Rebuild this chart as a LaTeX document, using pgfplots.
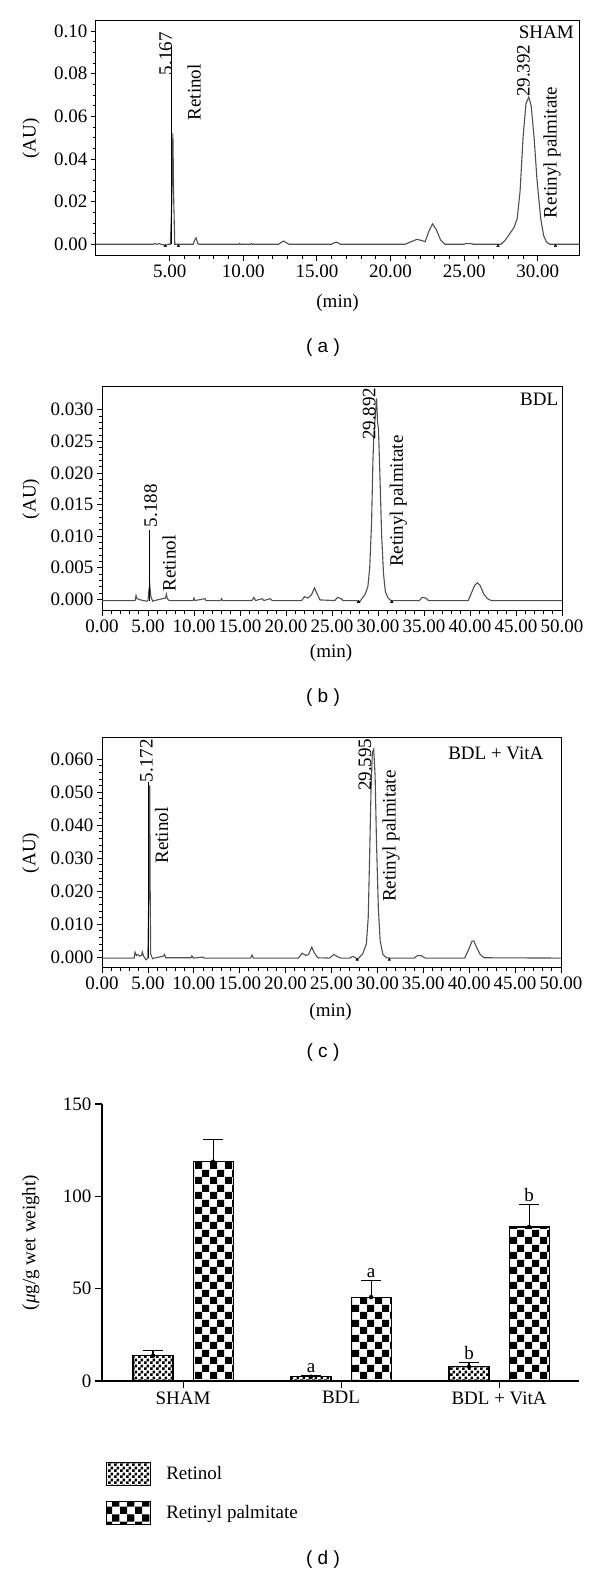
\documentclass[border=0pt]{standalone}
\usepackage{fontspec}
\setmainfont{Liberation Serif}
\newfontfamily\capfont{Liberation Sans}
\usepackage{pgfplots}
\pgfplotsset{compat=1.18}
\usetikzlibrary{patterns}
\pgfdeclarepatternformonly{finecheck}{\pgfpointorigin}{\pgfqpoint{6pt}{6pt}}{\pgfqpoint{6pt}{6pt}}{%
 \pgfpathrectangle{\pgfpointorigin}{\pgfqpoint{3pt}{3pt}}%
 \pgfpathrectangle{\pgfqpoint{3pt}{3pt}}{\pgfqpoint{3pt}{3pt}}%
 \pgfusepath{fill}}
\pgfdeclarepatternformonly{bigcheck}{\pgfpointorigin}{\pgfqpoint{15pt}{15pt}}{\pgfqpoint{15pt}{15pt}}{%
 \pgfpathrectangle{\pgfpointorigin}{\pgfqpoint{7.5pt}{7.5pt}}%
 \pgfpathrectangle{\pgfqpoint{7.5pt}{7.5pt}}{\pgfqpoint{7.5pt}{7.5pt}}%
 \pgfusepath{fill}}
\definecolor{trace}{HTML}{505050}
\tikzset{rl/.style={rotate=90, anchor=west, inner sep=0pt}}
\pgfplotsset{
 chrom/.style={scale only axis, enlargelimits=false, axis line style={line width=1pt},
  tick align=outside, tick pos=left, major tick length=5pt, minor tick length=3pt,
  every tick/.style={black, line width=0.8pt},
  scaled ticks=false,
  /pgf/number format/assume math mode=true,
  xlabel={(min)}, ylabel={(AU)},
  xticklabel style={/pgf/number format/fixed, /pgf/number format/fixed zerofill, /pgf/number format/precision=2},
 },
 trc/.style={trace, line width=1.1pt, mark=none},
 spk/.style={black, line width=1.3pt, mark=none},
 ylab2/.style={yticklabel style={/pgf/number format/fixed, /pgf/number format/fixed zerofill, /pgf/number format/precision=2}},
 ylab3/.style={yticklabel style={/pgf/number format/fixed, /pgf/number format/fixed zerofill, /pgf/number format/precision=3}},
}
\begin{document}
\begin{tikzpicture}[font=\fontsize{19}{22}\selectfont]
\useasboundingbox (0pt,0pt) rectangle (600pt,1574pt);

% ---------- (a) SHAM ----------
\begin{axis}[chrom, ylab2, at={(96pt,1318pt)}, anchor=south west, width=483pt, height=235pt,
 xmin=0, xmax=32.8, ymin=-0.0055, ymax=0.1047,
 xtick={5,10,15,20,25,30}, minor x tick num=4,
 ytick={0,0.02,0.04,0.06,0.08,0.1}, minor y tick num=3,
 xlabel style={at={(rel axis cs:0.5,-0.2)}, anchor=center},
 ylabel style={at={(rel axis cs:-0.1346,0.5)}, anchor=center}]
\addplot[trc] coordinates {(0,0) (3.9,0) (4.0,0.0004) (4.1,0) (4.3,0.0003) (4.4,0) (4.7,-0.0005) (4.9,0) (5.05,0) (5.15,0.02) (5.22,0.052) (5.28,0.02) (5.35,0) (6.6,0) (6.7,0.002) (6.8,0.003) (6.9,0.0005) (7.0,0) (9.7,0) (9.75,0.0004) (9.8,0) (10.5,0) (10.55,0.0003) (10.6,0) (12.4,0) (12.6,0.001) (12.75,0.0015) (12.9,0.0008) (13.1,0) (16.0,0) (16.2,0.0008) (16.35,0.001) (16.6,0) (21.0,0) (21.4,0.0012) (21.8,0.0023) (22.1,0.0018) (22.35,0.0012) (22.6,0.006) (22.85,0.0095) (23.1,0.007) (23.4,0.002) (23.7,0) (25.0,0) (25.1,0.0003) (25.5,0.0003) (25.6,0) (27.5,0) (27.8,0.002) (28.1,0.005) (28.4,0.008) (28.6,0.012) (28.8,0.025) (29.0,0.05) (29.2,0.066) (29.39,0.069) (29.55,0.065) (29.75,0.05) (29.95,0.03) (30.2,0.012) (30.4,0.004) (30.6,0.001) (30.8,0) (32.8,0)};
\addplot[spk] coordinates {(5.13,0) (5.13,0.093)};
\addplot[only marks, mark=triangle*, mark size=1.5pt, black] coordinates {(4.7,-0.0008) (5.6,-0.0008) (27.3,-0.0008) (31.2,-0.0008)};
\node[rl, anchor=east] at (axis cs:4.74,0.0995) {5.167};
\node[rl] at (axis cs:6.67,0.058) {Retinol};
\node[rl] at (axis cs:29.03,0.069) {29.392};
\node[rl] at (axis cs:30.97,0.0122) {Retinyl palmitate};
\node[anchor=east, inner sep=0pt] at (axis cs:32.46,0.0995) {SHAM};
\end{axis}
\node[font=\capfont\fontsize{19}{22}\selectfont] at (323pt,1226pt) {( a )};

% ---------- (b) BDL ----------
\begin{axis}[chrom, ylab3, at={(102pt,963pt)}, anchor=south west, width=460pt, height=224pt,
 xmin=0, xmax=50, ymin=-0.00185, ymax=0.0336,
 xtick={0,5,...,50}, minor x tick num=4,
 ytick={0,0.005,0.01,0.015,0.02,0.025,0.03}, minor y tick num=4,
 xlabel style={at={(rel axis cs:0.498,-0.1875)}, anchor=center},
 ylabel style={at={(rel axis cs:-0.154,0.5)}, anchor=center}]
\addplot[trc] coordinates {(0,-0.0002) (3.6,-0.0002) (3.7,0.0006) (3.8,0.0001) (4.2,-0.0001) (4.8,-0.0003) (5.0,-0.0002) (5.1,0.0015) (5.2,0.0022) (5.3,0.0005) (5.5,-0.0003) (5.7,-0.0002) (6.9,0.0002) (7.0,0.0008) (7.1,0.0001) (7.3,-0.0002) (9.9,-0.0002) (10.0,0.0002) (10.1,-0.0002) (11.2,0.0001) (11.3,-0.0002) (12.9,-0.0002) (13.0,0.0001) (13.1,-0.0002) (16.3,-0.0002) (16.5,0.0003) (16.7,-0.0002) (17.4,0.0001) (17.6,-0.0002) (18.3,0.0001) (18.5,-0.0002) (21.7,-0.0002) (22.0,0.0004) (22.4,0.0002) (22.8,0.0008) (23.1,0.0018) (23.4,0.0008) (23.7,-0.0001) (25.3,-0.0002) (25.6,0.0003) (26.0,0.0001) (26.2,-0.0002) (27.7,-0.0002) (27.9,-0.0005) (28.1,-0.0002) (28.6,0.0008) (28.9,0.002) (29.1,0.005) (29.3,0.012) (29.45,0.022) (29.55,0.026) (29.7,0.029) (29.85,0.0318) (29.95,0.028) (30.05,0.027) (30.2,0.02) (30.4,0.01) (30.6,0.004) (30.8,0.0012) (31.1,0.0002) (31.4,-0.0002) (34.5,-0.0002) (34.8,0.0003) (35.2,0.0002) (35.5,-0.0002) (39.8,-0.0002) (40.1,0.0008) (40.5,0.0022) (40.8,0.0026) (41.1,0.0022) (41.5,0.0008) (41.9,0.0001) (42.3,-0.0002) (50,-0.0002)};
\addplot[spk] coordinates {(5.14,-0.0002) (5.14,0.011)};
\addplot[only marks, mark=triangle*, mark size=1.5pt, black] coordinates {(27.9,-0.0004) (31.5,-0.0004)};
\node[rl] at (axis cs:5.3,0.0114) {5.188};
\node[rl] at (axis cs:7.3,0.0012) {Retinol};
\node[rl] at (axis cs:29.05,0.0252) {29.892};
\node[rl] at (axis cs:32.2,0.0051) {Retinyl palmitate};
\node[anchor=east, inner sep=0pt] at (axis cs:49.6,0.0316) {BDL};
\end{axis}
\node[font=\capfont\fontsize{19}{22}\selectfont] at (323pt,876pt) {( b )};

% ---------- (c) BDL + VitA ----------
\begin{axis}[chrom, ylab3, at={(102pt,606pt)}, anchor=south west, width=459pt, height=230pt,
 xmin=0, xmax=50, ymin=-0.0033, ymax=0.0664,
 xtick={0,5,...,50}, minor x tick num=4,
 ytick={0,0.01,0.02,0.03,0.04,0.05,0.06}, minor y tick num=4,
 xlabel style={at={(rel axis cs:0.498,-0.191)}, anchor=center},
 ylabel style={at={(rel axis cs:-0.155,0.5)}, anchor=center}]
\addplot[trc] coordinates {(0,-0.0003) (3.5,-0.0003) (3.6,0.0015) (3.75,0.0005) (3.9,0.0008) (4.1,0.0003) (4.3,0.0005) (4.4,0.0015) (4.55,0.0002) (4.8,-0.0008) (5.0,-0.0003) (5.1,0.02) (5.15,0.05) (5.2,0.052) (5.25,0.02) (5.3,0.001) (5.5,-0.0005) (5.7,-0.0003) (6.7,0.0003) (6.8,0.0008) (6.95,-0.0002) (9.7,-0.0002) (9.8,0.0004) (9.95,-0.0003) (11.0,0) (11.1,-0.0003) (16.2,-0.0003) (16.35,0.0006) (16.5,-0.0003) (21.4,-0.0003) (21.8,0.0012) (22.2,0.0005) (22.5,0.0008) (22.85,0.003) (23.15,0.0012) (23.5,-0.0002) (24.8,-0.0003) (25.25,0.0008) (25.6,0.0002) (26.0,-0.0003) (27.0,-0.0003) (27.3,0.0002) (27.6,-0.0001) (27.75,-0.0008) (28.0,-0.0002) (28.4,0.001) (28.8,0.004) (29.0,0.012) (29.15,0.03) (29.3,0.05) (29.45,0.062) (29.6,0.063) (29.75,0.055) (29.9,0.035) (30.1,0.015) (30.3,0.005) (30.6,0.0008) (31.0,-0.0002) (31.4,-0.0003) (34.0,-0.0003) (34.4,0.0005) (34.8,0.0004) (35.2,-0.0003) (39.5,-0.0003) (39.9,0.002) (40.3,0.0048) (40.5,0.0049) (40.8,0.003) (41.2,0.0008) (41.6,-0.0002) (50,-0.0003)};
\addplot[spk] coordinates {(5.08,-0.0003) (5.08,0.053)};
\addplot[only marks, mark=triangle*, mark size=1.5pt, black] coordinates {(27.8,-0.0008) (31.3,-0.0008)};
\node[rl] at (axis cs:4.84,0.053) {5.172};
\node[rl] at (axis cs:6.5,0.0283) {Retinol};
\node[rl] at (axis cs:28.65,0.0503) {29.595};
\node[rl] at (axis cs:31.48,0.0167) {Retinyl palmitate};
\node[anchor=east, inner sep=0pt] at (axis cs:48.1,0.0616) {BDL + VitA};
\end{axis}
\node[font=\capfont\fontsize{19}{22}\selectfont] at (323pt,521pt) {( c )};

% ---------- (d) bars ----------
\begin{axis}[scale only axis, at={(102pt,193pt)}, anchor=south west, width=477pt, height=277pt,
 axis lines*=left, axis line style={line width=1.2pt},
 tick align=outside, major tick length=7pt, every tick/.style={black, line width=1.1pt},
 /pgf/number format/assume math mode=true,
 xmin=0.487, xmax=3.506, ymin=0, ymax=150,
 xtick={1,2,3}, xticklabels={SHAM,BDL,BDL + VitA},
 ytick={0,50,100,150},
 ylabel={(\textit{μ}g/g wet weight)},
 ylabel style={at={(rel axis cs:-0.149,0.5)}, anchor=center},
 legend style={at={(0.0084,-0.29)}, anchor=north west, draw=none, inner sep=0pt, row sep=15pt,
   nodes={inner sep=1pt}, /tikz/every odd column/.append style={column sep=14pt}},
 legend cell align=left,
]
\addplot[ybar, bar width=0.253, bar shift=-0.19, draw=black, line width=1.1pt, pattern=finecheck,
 legend image code/.code={\draw[pattern=finecheck, draw=black, line width=1.1pt] (0pt,-11.5pt) rectangle (44pt,11.5pt);}]
 coordinates {(1,13.7) (2,2.3) (3,7.7)};
\addlegendentry{Retinol}
\addplot[ybar, bar width=0.253, bar shift=0.19, draw=black, line width=1.1pt, pattern=bigcheck,
 legend image code/.code={\draw[pattern=bigcheck, draw=black, line width=1.1pt] (0pt,-11.5pt) rectangle (44pt,11.5pt);}]
 coordinates {(1,118.7) (2,45.4) (3,83.4)};
\addlegendentry{Retinyl palmitate}
\addplot[forget plot, only marks, mark=none,
 error bars/y dir=plus, error bars/y explicit,
 error bars/error bar style={black, line width=1.1pt},
 error bars/error mark options={rotate=90, mark size=10pt, line width=1.1pt, black}]
 coordinates {(0.81,13.7) +- (0,2.7) (1.81,2.3) +- (0,0.9) (2.81,7.7) +- (0,2.2)
              (1.19,118.7) +- (0,12.3) (2.19,45.4) +- (0,9.2) (3.19,83.4) +- (0,12.3)};
\addplot[forget plot, only marks, mark=none, nodes near coords, point meta=explicit symbolic,
 every node near coord/.append style={anchor=base, yshift=3pt, inner sep=0pt}]
 coordinates {(1.81,3.2) [a] (2.19,54.6) [a] (2.81,9.9) [b] (3.19,95.7) [b]};
\end{axis}
\node[font=\capfont\fontsize{19}{22}\selectfont] at (323pt,14pt) {( d )};
\end{tikzpicture}
\end{document}
